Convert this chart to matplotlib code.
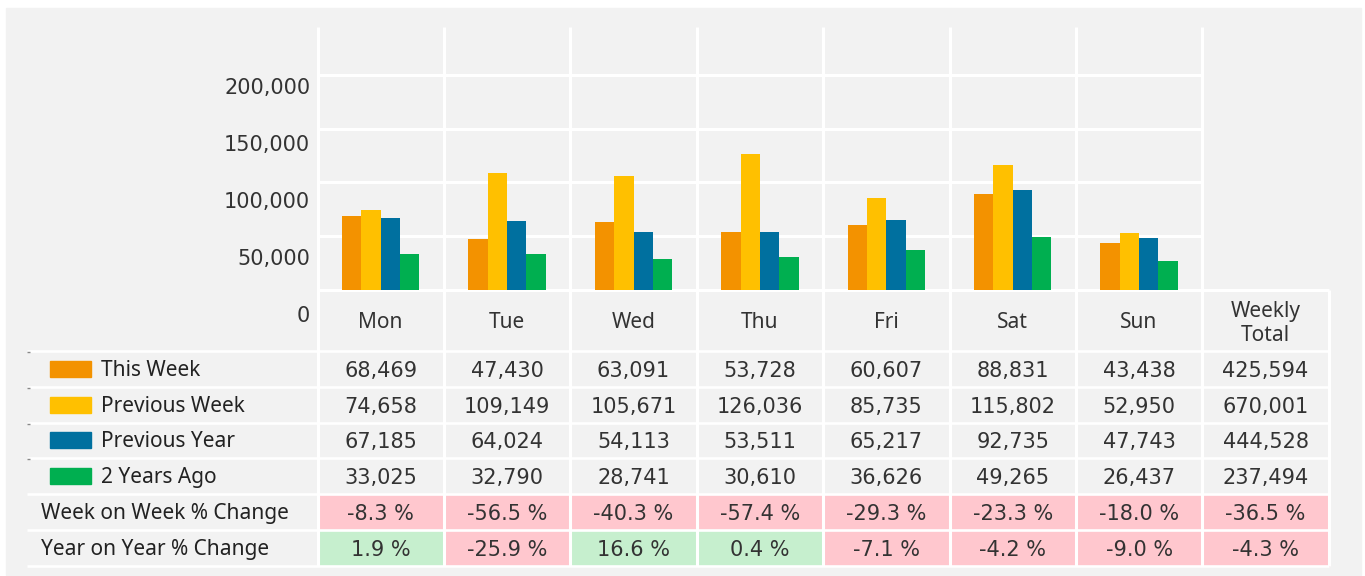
import matplotlib.pyplot as plt
import numpy as np
from matplotlib.patches import Rectangle

plt.rcParams['font.family'] = ['Noto Sans', 'DejaVu Sans']

days = ["Mon", "Tue", "Wed", "Thu", "Fri", "Sat", "Sun"]
series_names = ["This Week", "Previous Week", "Previous Year", "2 Years Ago"]
this_week = [68469, 47430, 63091, 53728, 60607, 88831, 43438]
previous_week = [74658, 109149, 105671, 126036, 85735, 115802, 52950]
previous_year = [67185, 64024, 54113, 53511, 65217, 92735, 47743]
two_years_ago = [33025, 32790, 28741, 30610, 36626, 49265, 26437]
# last entry of each is the weekly total
wow_change = [-8.3, -56.5, -40.3, -57.4, -29.3, -23.3, -18.0, -36.5]
yoy_change = [1.9, -25.9, 16.6, 0.4, -7.1, -4.2, -9.0, -4.3]
y_ticks = [0, 50000, 100000, 150000, 200000]

series = [this_week, previous_week, previous_year, two_years_ago]
colors = ["#F39200", "#FFC000", "#00709F", "#00AF50"]
pos_fill = "#C6EFCE"
neg_fill = "#FFC7CE"
bg = "#F2F2F2"
txt = "#333333"
num_font = ["DejaVu Sans"]

W, H = 1365, 576
fig = plt.figure(figsize=(W / 100, H / 100), dpi=100)

# pixel canvas for the panel and the table under the bars
cv = fig.add_axes([0, 0, 1, 1])
cv.set_xlim(0, W)
cv.set_ylim(H, 0)
cv.axis("off")
cv.add_patch(Rectangle((6, 8), 1355, 567, color=bg, zorder=0))

col_left, col_w = 317.5, 126.4
edges = col_left + col_w * np.arange(9)
chart_top, zero_y = 27, 289.5
row_edges = [351, 387, 422.5, 458, 494, 530, 566]
fs = 15
base_off = 7.8  # baseline offset below a row's centre, px

# bar chart
ax = fig.add_axes([col_left / W, 1 - zero_y / H, 7 * col_w / W, (zero_y - chart_top) / H])
ax.set_facecolor("none")
x = np.arange(len(days))
bw = 0.153
for i, (vals, c) in enumerate(zip(series, colors)):
    ax.bar(x + (i - 1.5) * bw, vals, width=bw, color=c, zorder=3)
ax.set_xlim(-0.5, 6.5)
ax.set_ylim(0, 245000)
ax.set_yticks(y_ticks)
ax.set_xticks([])
ax.yaxis.grid(True, color="white", lw=2.2)
ax.set_axisbelow(True)
ax.tick_params(left=False, labelleft=False)
for s in ax.spines.values():
    s.set_visible(False)

# y labels sit on their own scale
axl = fig.add_axes([col_left / W, 1 - 314 / H, 0.0005, (314 - 86) / H])
axl.set_facecolor("none")
axl.set_ylim(0, 200000)
axl.set_yticks(y_ticks)
axl.set_yticklabels([f"{v:,}" for v in y_ticks], fontsize=fs, color=txt, family=num_font)
axl.tick_params(left=False, length=0, pad=5.2)
axl.set_xticks([])
for s in axl.spines.values():
    s.set_visible(False)

# header
for j, d in enumerate(days):
    cv.text(edges[j] + col_w / 2, 328.3, d, ha="center", va="baseline", fontsize=fs, color=txt)
cv.text(edges[7] + col_w / 2, 316.7, "Weekly", ha="center", va="baseline", fontsize=fs, color=txt)
cv.text(edges[7] + col_w / 2, 340.7, "Total", ha="center", va="baseline", fontsize=fs, color=txt)

# value rows
for r, (name, vals, c) in enumerate(zip(series_names, series, colors)):
    top, bot = row_edges[r], row_edges[r + 1]
    cy = (top + bot) / 2
    cv.add_patch(Rectangle((50, cy - 8), 41, 16, color=c, zorder=2))
    cv.text(101, cy + 7, name, va="baseline", fontsize=fs, color="#222222")
    for j, v in enumerate(list(vals) + [sum(vals)]):
        cv.text(edges[j] + col_w / 2, cy + base_off, f"{v:,}", ha="center", va="baseline",
                fontsize=fs, color=txt, family=num_font)

# percentage rows
for r, (name, vals) in enumerate([("Week on Week % Change", wow_change),
                                  ("Year on Year % Change", yoy_change)], start=4):
    top, bot = row_edges[r], row_edges[r + 1]
    cy = (top + bot) / 2
    cv.text(41, cy + 7, name, va="baseline", fontsize=fs, color="#222222")
    for j, v in enumerate(vals):
        fill = pos_fill if v >= 0 else neg_fill
        cv.add_patch(Rectangle((edges[j], top), col_w, bot - top, color=fill, zorder=1))
        cv.text(edges[j] + col_w / 2, cy + base_off, f"{v:.1f} %", ha="center", va="baseline",
                fontsize=fs, color=txt, family=num_font, zorder=4)

# white cell borders
lw = 1.9
cv.hlines(290, edges[0], edges[8], color="white", lw=2.2, zorder=3)
for y in row_edges:
    cv.hlines(y, 27, edges[8], color="white", lw=lw, zorder=3)
for xe in edges[:8]:
    cv.vlines(xe, chart_top, row_edges[-1], color="white", lw=2.2, zorder=3)
cv.vlines(edges[8], 290, row_edges[-1], color="white", lw=2.2, zorder=3)
for y in row_edges[:4]:
    cv.hlines(y + 1, 27, 30, color="#888888", lw=1, zorder=4)

fig.savefig("out.png", dpi=100)
